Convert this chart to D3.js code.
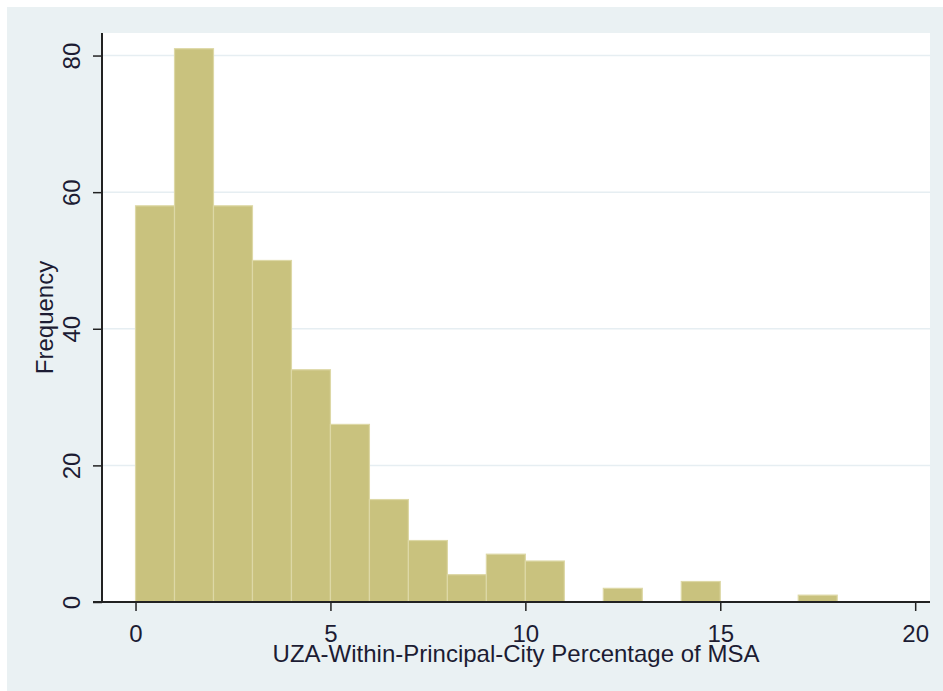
<!DOCTYPE html>
<html>
<head>
<meta charset="utf-8">
<script src="https://cdn.jsdelivr.net/npm/d3@7"></script>
<style>
  html, body { margin: 0; padding: 0; background: #fff; }
  svg text { font-family: "Liberation Sans", Arial, sans-serif; }
</style>
</head>
<body>
<div id="chart"></div>
<script>
// Histogram of UZA-within-principal-city share, bins of width 1
const binStarts = [0, 1, 2, 3, 4, 5, 6, 7, 8, 9, 10, 11, 12, 13, 14, 15, 16, 17];
const counts = [58, 81, 58, 50, 34, 26, 15, 9, 4, 7, 6, 0, 2, 0, 3, 0, 0, 1];
const binWidth = 1;
const xTicks = [0, 5, 10, 15, 20];
const yTicks = [0, 20, 40, 60, 80];
const xTitle = 'UZA-Within-Principal-City Percentage of MSA';
const yTitle = 'Frequency';

function drawChart() {
    const width = 943, height = 691;
    const plot = { left: 102, right: 930, top: 33, bottom: 602 };

    const svg = d3.select('#chart').append('svg')
        .attr('width', width)
        .attr('height', height);

    // outer graph region
    svg.append('rect')
        .attr('x', 7).attr('y', 7)
        .attr('width', width - 7).attr('height', height - 7)
        .attr('fill', '#eaf1f3');

    // plot region
    svg.append('rect')
        .attr('x', plot.left).attr('y', plot.top)
        .attr('width', plot.right - plot.left)
        .attr('height', plot.bottom - plot.top)
        .attr('fill', '#ffffff');

    const x = d3.scaleLinear()
        .domain([-0.86, 20.38])
        .range([plot.left, plot.right]);

    const y = d3.scaleLinear()
        .domain([0, 83.3])
        .range([plot.bottom, plot.top]);

    // Grid
    svg.append('g')
        .selectAll('line')
        .data(yTicks.filter(d => d > 0))
        .join('line')
        .attr('x1', plot.left)
        .attr('x2', plot.right)
        .attr('y1', d => y(d))
        .attr('y2', d => y(d))
        .attr('stroke', '#e6eef2')
        .attr('stroke-width', 1.5);

    // Bars
    svg.append('g')
        .selectAll('rect')
        .data(binStarts.map((b, i) => ({ x0: b, x1: b + binWidth, n: counts[i] })).filter(d => d.n > 0))
        .join('rect')
        .attr('x', d => x(d.x0))
        .attr('width', d => x(d.x1) - x(d.x0))
        .attr('y', d => y(d.n))
        .attr('height', d => y(0) - y(d.n))
        .attr('fill', '#c9c27e')
        .attr('stroke', '#ddd8a6')
        .attr('stroke-width', 1.2);

    // Y axis
    const yAxis = svg.append('g')
        .attr('transform', `translate(${plot.left},0)`)
        .call(d3.axisLeft(y).tickValues(yTicks).tickSize(9).tickPadding(0).tickFormat(d3.format('d')));
    yAxis.select('.domain')
        .attr('d', `M0,${plot.top}V${plot.bottom}`)
        .attr('stroke', '#222')
        .attr('stroke-width', 2);
    yAxis.selectAll('.tick line').attr('stroke', '#222').attr('stroke-width', 1.5);
    yAxis.selectAll('.tick text')
        .attr('x', 0).attr('y', 0)
        .attr('transform', 'translate(-30,0) rotate(-90)')
        .attr('text-anchor', 'middle')
        .attr('dy', '0.35em')
        .attr('font-size', 24)
        .attr('fill', '#1c1c33');

    // X axis
    const xAxis = svg.append('g')
        .attr('transform', `translate(0,${plot.bottom})`)
        .call(d3.axisBottom(x).tickValues(xTicks).tickSize(9).tickPadding(14).tickFormat(d3.format('d')));
    xAxis.select('.domain')
        .attr('d', `M${plot.left - 9},0H${plot.right}`)
        .attr('stroke', '#222')
        .attr('stroke-width', 2);
    xAxis.selectAll('.tick line').attr('stroke', '#222').attr('stroke-width', 1.5);
    xAxis.selectAll('.tick text')
        .attr('font-size', 24)
        .attr('fill', '#1c1c33');

    // Axis titles
    svg.append('text')
        .attr('x', (plot.left + plot.right) / 2)
        .attr('y', 662)
        .attr('text-anchor', 'middle')
        .attr('font-size', 24)
        .attr('fill', '#1c1c33')
        .text(xTitle);

    svg.append('text')
        .attr('transform', `translate(53,${(plot.top + plot.bottom) / 2}) rotate(-90)`)
        .attr('text-anchor', 'middle')
        .attr('font-size', 24)
        .attr('fill', '#1c1c33')
        .text(yTitle);
}

drawChart();
</script>
</body>
</html>
